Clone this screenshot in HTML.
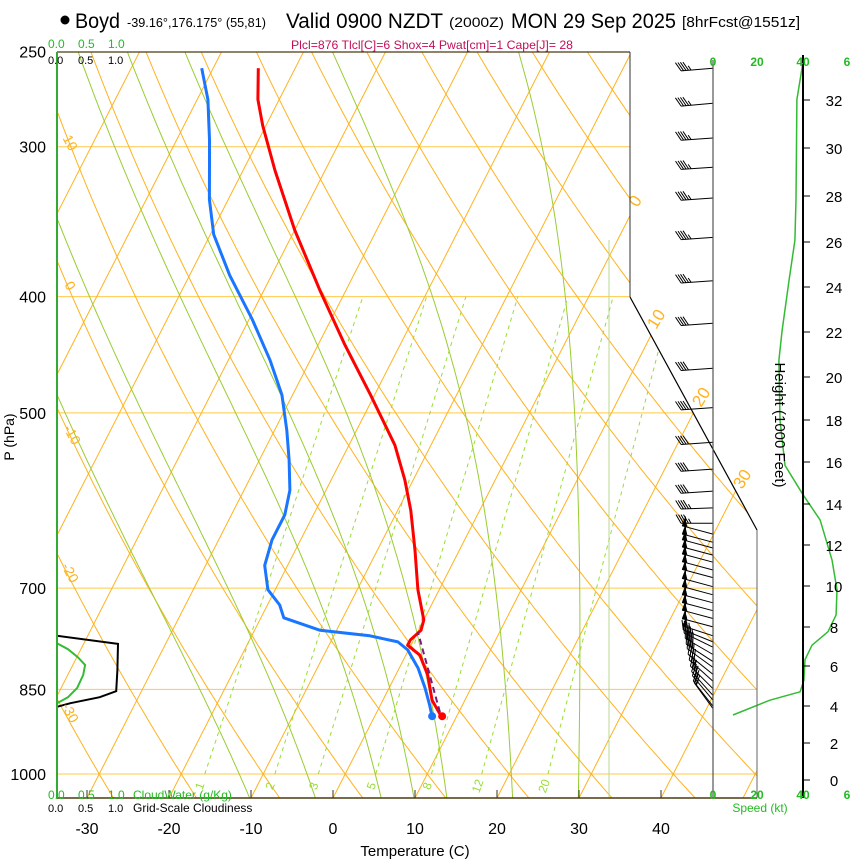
<!DOCTYPE html>
<html><head><meta charset="utf-8"><title>Skew-T Boyd</title>
<style>
html,body{margin:0;padding:0;background:#fff;}
svg{display:block;font-family:"Liberation Sans",Arial,sans-serif;}
</style></head>
<body>
<svg id="chart" width="850" height="860" viewBox="0 0 850 860" xmlns="http://www.w3.org/2000/svg">
<defs>
<clipPath id="plotClip"><polygon points="57,52 630,52 630,297 757,530 757,798 57,798"/></clipPath>
</defs>
<rect x="0" y="0" width="850" height="860" fill="#fff"/>
<g>
<circle cx="65" cy="20" r="4.5" fill="#000"/>
<text x="75" y="28" font-size="21" textLength="45" lengthAdjust="spacingAndGlyphs">Boyd</text>
<text x="127" y="27" font-size="13" textLength="139" lengthAdjust="spacingAndGlyphs">-39.16°,176.175° (55,81)</text>
<text x="286" y="28" font-size="21" textLength="157" lengthAdjust="spacingAndGlyphs">Valid 0900 NZDT</text>
<text x="449" y="27" font-size="14" textLength="55" lengthAdjust="spacingAndGlyphs">(2000Z)</text>
<text x="511" y="28" font-size="21" textLength="165" lengthAdjust="spacingAndGlyphs">MON 29 Sep 2025</text>
<text x="682" y="27" font-size="15" textLength="118" lengthAdjust="spacingAndGlyphs">[8hrFcst@1551z]</text>
<text x="291" y="49" font-size="12" fill="#c0105a" textLength="282" lengthAdjust="spacingAndGlyphs">Plcl=876 Tlcl[C]=6 Shox=4 Pwat[cm]=1 Cape[J]= 28</text>
</g>
<g id="grid" clip-path="url(#plotClip)"></g>
<g id="series"></g>
<g id="axes"></g>
</svg>
<script>
// ---------- data ----------
const tempP = [258,274,288,314,352,395,439,483,532,569,603,651,702,744,759,773,781,796,827,868,895];
const tempC = [-54.5,-52.6,-50.4,-46.1,-40.0,-33.2,-26.7,-20.5,-14.4,-11.0,-8.4,-5.4,-2.6,0.0,0.3,-0.4,-0.4,1.7,3.9,6.0,8.1];
const dewP = [258,274,296,311,332,355,384,418,452,483,517,547,580,608,638,670,702,723,741,759,767,776,788,816,848,876,895];
const dewC = [-61.4,-58.7,-56.0,-54.4,-52.3,-49.6,-45.1,-39.6,-34.9,-31.3,-28.5,-26.4,-24.4,-23.5,-23.5,-22.8,-20.9,-18.5,-17.2,-12.0,-5.6,-1.8,-0.1,2.3,4.4,6.0,7.0];
const parcelP = [888,761];
const parcelC = [7.7,0.0];
const pressureLevels = [250,300,400,500,700,850,1000];
const tempTicks = [-30,-20,-10,0,10,20,30,40];
const isotherms = [-100,-90,-80,-70,-60,-50,-40,-30,-20,-10,0,10,20,30,40,50];
const dryAdiabats = [-40,-30,-20,-10,0,10,20,30,40,50,60,70,80,90,100,110,120,130,140,150,160];
const moistStart = [-10,-2,6,10,14,22,30];
const mixRatios = [1,2,3,5,8,12,20];
const speedP = [255,274,332,359,388,427,452,507,553,585,614,663,702,737,761,781,803,835,854,868,893];
const speedKt = [40,37.3,36.9,36.4,33.8,30.7,29.3,29.8,32,40,47.6,52.9,55.1,54.7,51.1,44,40.9,40.4,38.7,25.3,8.9];
const barbP = [258,276,295,312,331,357,388,421,459,495,529,557,581,600,618,631,641,648,657,666,676,686,698,709,720,731,742,754,767,776,784,795,806,815,826,837,849,860,868,878,882];
const barbKt = [45,45,45,45,45,45,45,40,40,40,40,40,40,45,45,55,55,55,55,55,55,55,55,55,55,55,55,55,50,45,45,40,40,40,40,35,35,30,30,25,20];
const barbDir = [265,265,266,266,266,266,266,266,266,266,266,266,266,268,270,285,285,285,285,285,285,285,285,285,285,285,285,285,288,292,296,300,303,306,309,312,315,318,320,322,324];
const cloudFracP = [767,779,819,853,863,873,879];
const cloudFrac = [0,1.0,0.99,0.97,0.7,0.22,0];
const cloudWaterP = [778,787,799,811,827,848,863,873];
const cloudWater = [0,0.18,0.34,0.46,0.43,0.33,0.18,0];
const heightFt = [0,2,4,6,8,10,12,14,16,18,20,22,24,26,28,30,32];
const heightY = [780,743,706,666,627,586,545,504,462,420,377,332,287,242,196,148,100];

// ---------- axis functions ----------
function yP(p){return 774 + 521*Math.log(p/1000);}
function xT(T,p){return 333 + 8.2*T + 0.51*(798 - yP(p));}
function xSpd(k){return 713 + 2.25*k;}
function xCloud(f){return 57 + 61*f;}
const NS="http://www.w3.org/2000/svg";
function mk(tag,attrs,parent){const e=document.createElementNS(NS,tag);for(const k in attrs)e.setAttribute(k,attrs[k]);parent.appendChild(e);return e;}
const grid=document.getElementById('grid'), series=document.getElementById('series'), axes=document.getElementById('axes');
const ORANGE="#ffb21e", GREEN="#99cc33";

pressureLevels.forEach(p=>{
  const l=mk('line',{x1:57,x2:760,y1:yP(p),y2:yP(p),stroke:"#ffc94a","stroke-width":1},grid);
  
  
});
isotherms.forEach(T=>{
  const l=mk('line',{x1:xT(T,1050),y1:yP(1050),x2:xT(T,240),y2:yP(240),stroke:ORANGE,"stroke-width":1},grid);
  
  
});
dryAdiabats.forEach(th=>{
  let d="";
  for(let p=1050;p>=240;p-=10){const T=(th+273.15)*Math.pow(p/1000,0.286)-273.15;d+=(d?"L":"M")+xT(T,p).toFixed(1)+","+yP(p).toFixed(1);}
  const e=mk('path',{d:d,fill:"none",stroke:ORANGE,"stroke-width":1},grid);
  
  
});
function es(Tc){return 6.112*Math.exp(17.67*Tc/(Tc+243.5));}
moistStart.forEach(T0=>{
  let T=T0+273.15, p=1050, d="M"+xT(T0,p).toFixed(1)+","+yP(p).toFixed(1);
  while(p>240){
    const e=es(T-273.15), rs=0.622*e/(p-e);
    const dTdp=(287*T+2.5e6*rs)/(p*(1005+2.5e6*2.5e6*rs*0.622/(287*T*T)));
    const dp=-5; T+=dTdp*dp; p+=dp;
    d+="L"+xT(T-273.15,p).toFixed(1)+","+yP(p).toFixed(1);
  }
  const el=mk('path',{d:d,fill:"none",stroke:GREEN,"stroke-width":1},grid);
  
  
});
const vline=mk('line',{x1:609,x2:609,y1:240,y2:798,stroke:"#b8d890","stroke-width":1},grid);


function tdFromW(w,p){const e=w*p/(622+w);const l=Math.log(e/6.112);return 243.5*l/(17.67-l);}
mixRatios.forEach(w=>{
  const el=mk('line',{x1:xT(tdFromW(w,1000),1000),y1:yP(1000),x2:xT(tdFromW(w,400),400),y2:yP(400),stroke:"#99dd33","stroke-width":1,"stroke-dasharray":"4,4"},grid);
  
  
  const x=xT(tdFromW(w,1030),1030);
  const t=mk('text',{x:x,y:790,"font-size":12,fill:"#99dd33","text-anchor":"middle",transform:`rotate(-70 ${x} 786)`},axes);
  t.textContent=w;
  
  
});
[[0,640,204],[10,661,322],[20,706,400],[30,747,482]].forEach(a=>{
  const t=mk('text',{x:a[1],y:a[2],"font-size":17,fill:"#ffb21e","text-anchor":"middle",transform:`rotate(-58 ${a[1]} ${a[2]})`},axes);
  t.textContent=a[0];
  
  
});
[[10,66,145],[0,66,288],[-10,68,437],[-20,66,575],[-30,66,715]].forEach(a=>{
  const t=mk('text',{x:a[1],y:a[2],"font-size":14,fill:"#ffb21e","text-anchor":"middle",transform:`rotate(62 ${a[1]} ${a[2]})`},axes);
  t.textContent=a[0];
  
  
});
function pathOf(P,V){return P.map((p,i)=>(i?"L":"M")+xT(V[i],p).toFixed(1)+","+yP(p).toFixed(1)).join("");}
const tl=mk('path',{d:pathOf(tempP,tempC),fill:"none",stroke:"#ff0000","stroke-width":3,"stroke-linejoin":"round"},series);


const dl=mk('path',{d:pathOf(dewP,dewC),fill:"none",stroke:"#1a75ff","stroke-width":3,"stroke-linejoin":"round"},series);


const pl=mk('path',{d:pathOf(parcelP,parcelC),fill:"none",stroke:"#7a1a7a","stroke-width":2,"stroke-dasharray":"6,4"},series);


const tdot=mk('circle',{cx:xT(tempC[tempC.length-1],tempP[tempP.length-1])+1,cy:yP(tempP[tempP.length-1]),r:4,fill:"#ff0000"},series);


const ddot=mk('circle',{cx:xT(dewC[dewC.length-1],dewP[dewP.length-1]),cy:yP(dewP[dewP.length-1]),r:4,fill:"#1a75ff"},series);


const cf=mk('path',{d:cloudFracP.map((p,i)=>(i?"L":"M")+xCloud(cloudFrac[i]).toFixed(1)+","+yP(p).toFixed(1)).join(""),fill:"none",stroke:"#000","stroke-width":2},series);


const cw=mk('path',{d:cloudWaterP.map((p,i)=>(i?"L":"M")+xCloud(cloudWater[i]).toFixed(1)+","+yP(p).toFixed(1)).join(""),fill:"none",stroke:"#33bb33","stroke-width":2},series);


const sp=mk('path',{d:speedP.map((p,i)=>(i?"L":"M")+xSpd(speedKt[i]).toFixed(1)+","+yP(p).toFixed(1)).join(""),fill:"none",stroke:"#33bb33","stroke-width":1.5},series);


barbP.forEach((p,i)=>{
  const bx=713, by=yP(p), dr=barbDir[i]*Math.PI/180;
  const sx=Math.sin(dr), sy=-Math.cos(dr);
  const L=32, ex=bx+sx*L, ey=by+sy*L;
  const nx=-sy, ny=sx; // perpendicular pointing up
  const g=mk('g',{},series);
  
  
  let d=`M${bx},${by.toFixed(1)}L${ex.toFixed(1)},${ey.toFixed(1)}`;
  let spd=barbKt[i], pos=0, fills="";
  const fl=10;
  while(spd>=50){
    const ax=ex-sx*pos, ay=ey-sy*pos, cx=ex-sx*(pos+4), cy=ey-sy*(pos+4);
    fills+=`M${ax.toFixed(1)},${ay.toFixed(1)}L${(ax+nx*fl-sx*1).toFixed(1)},${(ay+ny*fl-sy*1).toFixed(1)}L${cx.toFixed(1)},${cy.toFixed(1)}Z`;
    pos+=5; spd-=50;
  }
  while(spd>=10){
    const ax=ex-sx*pos, ay=ey-sy*pos;
    d+=`M${ax.toFixed(1)},${ay.toFixed(1)}L${(ax+nx*fl*0.87+sx*5).toFixed(1)},${(ay+ny*fl*0.87+sy*5).toFixed(1)}`;
    pos+=2.5; spd-=10;
  }
  if(spd>=5){
    const ax=ex-sx*pos, ay=ey-sy*pos;
    d+=`M${ax.toFixed(1)},${ay.toFixed(1)}L${(ax+nx*fl*0.45+sx*2.5).toFixed(1)},${(ay+ny*fl*0.45+sy*2.5).toFixed(1)}`;
  }
  mk('path',{d:d,fill:"none",stroke:"#000","stroke-width":1},g);
  if(fills) mk('path',{d:fills,fill:"#000",stroke:"#000","stroke-width":0.5},g);
});
function ln(x1,y1,x2,y2,c,w,name){const e=mk('line',{x1:x1,y1:y1,x2:x2,y2:y2,stroke:c,"stroke-width":w},axes);return e;}
ln(57,52,630,52,"#4a3a10",1.2,'top-frame');
ln(630,52,630,297,"#333",1,'right-frame-upper');
ln(630,297,757,530,"#000",1.2,'right-frame-diagonal');
ln(757,530,757,798,"#666",1,'right-frame-lower');
ln(713,60,713,798,"#555",1.2,'speed-zero-axis');
ln(57,798,757,798,"#4a3a10",1.5,'x-axis');
ln(57,52,57,798,"#33aa33",2,'y-axis');
ln(803,55,803,798,"#000",2,'height-axis');
tempTicks.forEach(T=>{
  const x=333+8.2*T;
  ln(x,790,x,798,"#333",1,'x-tick');
  const t=mk('text',{x:x,y:834,"font-size":16,"text-anchor":"middle"},axes);
  t.textContent=T;
  
  
});
pressureLevels.forEach(p=>{
  const t=mk('text',{x:46,y:yP(p)+6,"font-size":16,"text-anchor":"end"},axes);
  t.textContent=p;
  
  
});
heightFt.forEach((h,i)=>{
  ln(803,heightY[i],810,heightY[i],"#000",1,'height-tick');
  const t=mk('text',{x:834,y:heightY[i]+6,"font-size":15,"text-anchor":"middle"},axes);
  t.textContent=h;
  
  
});
function tx(x,y,s,txt,opts,name){const t=document.createElementNS(NS,'text');t.setAttribute('x',x);t.setAttribute('y',y);t.setAttribute('font-size',s);for(const k in opts)t.setAttribute(k,opts[k]);t.textContent=txt;


axes.appendChild(t);}
tx(415,856,15,"Temperature (C)",{"text-anchor":"middle"},'x-axis-title');
tx(14,437,14,"P (hPa)",{"text-anchor":"middle",transform:"rotate(-90 14 437)"},'y-axis-title');
tx(775,425,15,"Height (1000 Feet)",{"text-anchor":"middle",transform:"rotate(90 775 425)"},'height-axis-title');
tx(48,48,12,"0.0",{fill:"#22bb22"},'cloudwater-scale-top');
tx(78,48,12,"0.5",{fill:"#22bb22"},'cloudwater-scale-top');
tx(108,48,12,"1.0",{fill:"#22bb22"},'cloudwater-scale-top');
tx(48,64,11,"0.0",{},'cloudiness-scale-top');
tx(78,64,11,"0.5",{},'cloudiness-scale-top');
tx(108,64,11,"1.0",{},'cloudiness-scale-top');
tx(48,799,12,"0.0",{fill:"#22bb22"},'cloudwater-scale');
tx(78,799,12,"0.5",{fill:"#22bb22"},'cloudwater-scale');
tx(108,799,12,"1.0",{fill:"#22bb22"},'cloudwater-scale');
tx(133,799,12,"CloudWater (g/Kg)",{fill:"#22bb22"},'cloudwater-title');
tx(48,812,11,"0.0",{},'cloudiness-scale');
tx(78,812,11,"0.5",{},'cloudiness-scale');
tx(108,812,11,"1.0",{},'cloudiness-scale');
tx(133,812,12,"Grid-Scale Cloudiness",{},'cloudiness-title');
[["0",713],["20",757],["40",803],["6",847]].forEach(a=>{
  tx(a[1],66,12,a[0],{fill:"#22bb22","text-anchor":"middle","font-weight":"bold"},'speed-scale-top');
  tx(a[1],799,12,a[0],{fill:"#22bb22","text-anchor":"middle","font-weight":"bold"},'speed-scale');
});
tx(760,812,12,"Speed (kt)",{fill:"#22bb22","text-anchor":"middle"},'speed-axis-title');
</script>
</body></html>
